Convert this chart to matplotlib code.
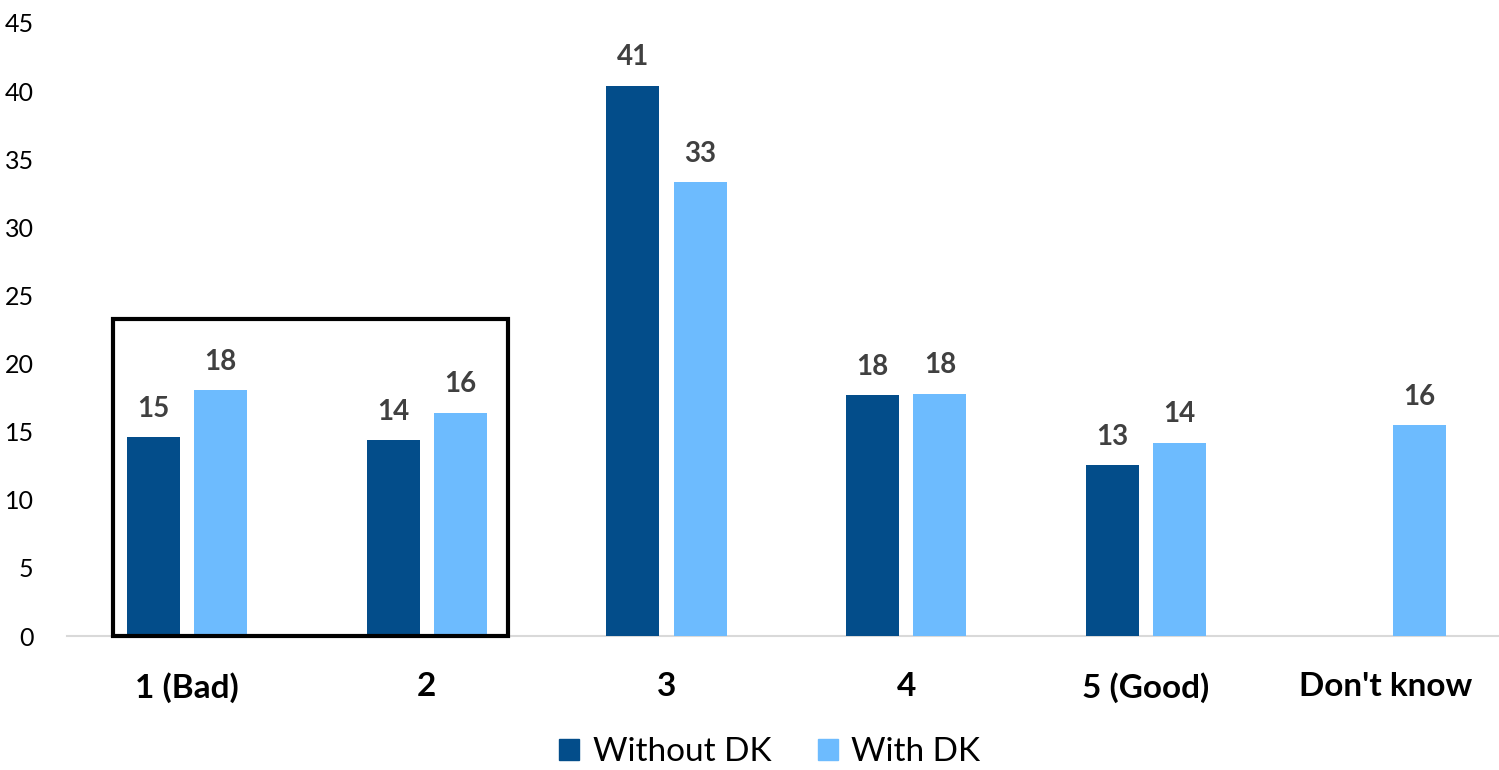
import matplotlib
matplotlib.use("Agg")
import matplotlib.pyplot as plt
from matplotlib.patches import Rectangle, Patch
import numpy as np

categories = ["1 (Bad)", "2", "3", "4", "5 (Good)", "Don't know"]
without_dk = [14.6, 14.4, 40.4, 17.7, 12.55, None]
with_dk = [18.05, 16.4, 33.3, 17.8, 14.2, 15.5]
without_labels = ["15", "14", "41", "18", "13", None]
with_labels = ["18", "16", "33", "18", "14", "16"]
yticks = [0, 5, 10, 15, 20, 25, 30, 35, 40, 45]

dark = "#034D8A"
light = "#6DBBFE"

plt.rcParams['font.family'] = ['Lato', 'DejaVu Sans']

fig = plt.figure(figsize=(14.99, 7.70), dpi=100)
ax = fig.add_axes([67/1499, 134/770, (1499-67)/1499, (747-134)/770])

x = np.arange(len(categories))
bw = 0.221
off = 0.14

for i in range(len(categories)):
    if without_dk[i] is not None:
        ax.bar(x[i] - off, without_dk[i], width=bw, color=dark, zorder=3)
        ax.annotate(without_labels[i], (x[i] - off, without_dk[i]), xytext=(0, 11),
                    textcoords="offset points", ha="center", va="bottom",
                    fontsize=20, fontweight="bold", color="#404040")
    ax.bar(x[i] + off, with_dk[i], width=bw, color=light, zorder=3)
    ax.annotate(with_labels[i], (x[i] + off, with_dk[i]), xytext=(0, 11),
                textcoords="offset points", ha="center", va="bottom",
                fontsize=20, fontweight="bold", color="#404040")

ax.set_xlim(-0.5, -0.5 + 1432/239.8)
ax.set_ylim(0, 45)
ax.set_yticks(yticks)
ax.set_yticklabels([str(v) for v in yticks], fontsize=18)
ax.set_xticks(x)
ax.set_xticklabels(categories, fontsize=24, fontweight="bold")
ax.tick_params(axis="x", length=0, pad=26)
ax.tick_params(axis="y", length=0, pad=24)
for s in ["top", "right", "left"]:
    ax.spines[s].set_visible(False)
ax.spines["bottom"].set_color("#D9D9D9")
ax.spines["bottom"].set_linewidth(1.5)

rect = Rectangle((-0.31, 0), 1.65, 23.27, fill=False, edgecolor="black",
                 linewidth=3, clip_on=False, zorder=5)
ax.add_patch(rect)

handles = [Patch(color=dark, label="Without DK"), Patch(color=light, label="With DK")]
fig.legend(handles=handles, loc="center", bbox_to_anchor=(770/1499, 1 - 752/770),
           ncol=2, frameon=False, fontsize=24, handlelength=0.6, handleheight=0.6,
           handletextpad=0.4, columnspacing=1.4)

fig.savefig("out.png", dpi=100)
